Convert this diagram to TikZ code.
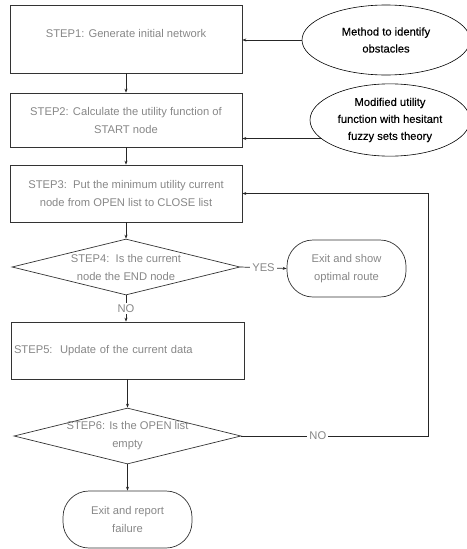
\documentclass[tikz,border=0pt]{standalone}
\usepackage{fontspec}
\setmainfont{Liberation Sans}
\newfontfamily\ellfont{Liberation Sans}[FakeBold=0.25]
\usetikzlibrary{shapes.geometric,arrows.meta}

\definecolor{txtgray}{RGB}{135,135,135}
\tikzset{
    stepbox/.style={draw=black!80, line width=0.7pt, text=txtgray, align=center,
        font=\fontsize{11.2}{18}\selectfont, inner sep=2pt},
    decision/.style={diamond, draw=black!80, line width=0.7pt, inner sep=0pt},
    dtext/.style={text=txtgray, align=center, inner sep=0pt,
        font=\fontsize{11.2}{18}\selectfont},
    endbox/.style={draw=black!80, line width=0.7pt, rounded corners=26pt, text=txtgray,
        align=center, font=\fontsize{11.2}{18}\selectfont},
    method/.style={ellipse, draw=black, line width=0.6pt, align=center,
        font=\ellfont\fontsize{11.2}{17}\selectfont},
    arr/.style={-{Stealth[length=4pt,width=3pt]}, line width=0.7pt, black!85},
    lbl/.style={fill=white, text=txtgray, inner sep=2pt, font=\fontsize{11.2}{12}\selectfont}
}

\begin{document}
\begin{tikzpicture}[x=1pt,y=-1pt]
    \useasboundingbox (0,0) rectangle (466,549);

    % Steps of the algorithm
    \node[stepbox, minimum width=232pt, minimum height=68pt] (s1) at (126,39)
        {STEP1: Generate initial network\\[-6pt]};
    \node[stepbox, minimum width=232pt, minimum height=54pt] (s2) at (126,120)
        {STEP2: Calculate the utility function of\\START node};
    \node[stepbox, minimum width=232pt, minimum height=57pt] (s3) at (126,193.5)
        {STEP3:\ \ Put the minimum utility current\\node from OPEN list to CLOSE list};
    \node[decision, minimum width=228pt, minimum height=56pt,
        label={[dtext]center:STEP4:\ \ Is the current\\node the END node}] (d4) at (126,267) {};
    \node[endbox, minimum width=119pt, minimum height=57pt] (t1) at (346.5,268.5)
        {Exit and show\\optimal route};
    \node[stepbox, minimum width=233pt, minimum height=57pt, text width=227pt,
        align=left, inner xsep=3pt] (s5) at (127.5,350.5)
        {STEP5:\ \ Update of the current data};
    \node[decision, minimum width=227pt, minimum height=56pt,
        label={[dtext]center:STEP6: Is the OPEN list\\empty}] (d6) at (127.5,436) {};
    \node[endbox, minimum width=129pt, minimum height=57pt] (t2) at (127.5,519.5)
        {Exit and report\\failure};

    % Methods feeding the first steps
    \node[method, minimum width=168pt, minimum height=70pt] (m1) at (386,40)
        {Method to identify\\obstacles};
    \node[method, minimum width=160pt, minimum height=66pt] (m2) at (390,120)
        {Modified utility\\function with hesitant\\fuzzy sets theory};

    % Connectors
    \draw[arr] (m1.west) -- (m1.west -| s1.east);
    \draw[arr] (m2.195) -- (m2.195 -| s2.east);
    \draw[arr] (s1) -- (s2);
    \draw[arr] (s2) -- (s3);
    \draw[arr] (s3.south) -- (d4.north);
    \draw[arr] (d4.east) -- node[lbl] {YES} (t1.west);
    \draw[arr] (d4.south) -- node[lbl, pos=0.5] {NO} (s5.north -| d4.south);
    \draw[arr] (s5.south -| d6.north) -- (d6.north);
    \draw[arr] (d6.south) -- (t2.north);

    % Loop back to STEP3
    \coordinate (loop) at (428,0);
    \draw[arr] (d6.east) -- node[lbl, pos=0.41] {NO} (d6.east -| loop) |- (s3.east);
\end{tikzpicture}
\end{document}
